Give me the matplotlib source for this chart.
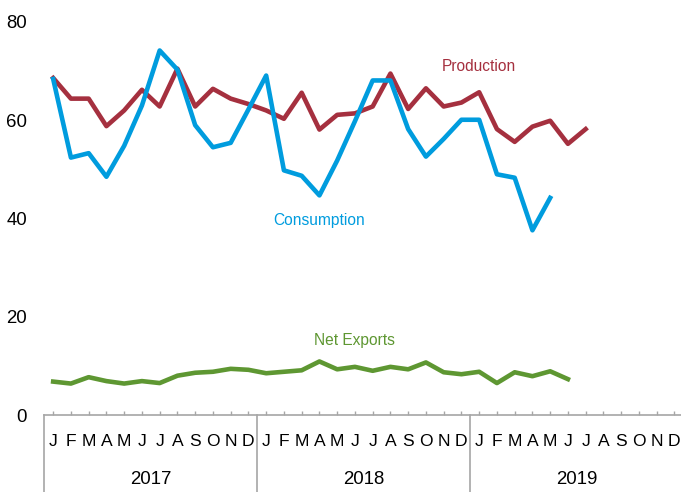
import matplotlib
matplotlib.use("Agg")
import matplotlib.pyplot as plt
import matplotlib.transforms as mtransforms

plt.rcParams['font.family'] = ['Liberation Sans', 'DejaVu Sans']

months = ["J", "F", "M", "A", "M", "J", "J", "A", "S", "O", "N", "D"]
years = ["2017", "2018", "2019"]

production = [68.6, 64.4, 64.4, 58.8, 62.0, 66.2, 62.8, 70.5, 62.8, 66.4, 64.4, 63.3,
              62.0, 60.3, 65.6, 58.1, 61.1, 61.4, 62.8, 69.5, 62.3, 66.5, 62.8, 63.6,
              65.7, 58.2, 55.6, 58.7, 59.9, 55.2, 58.2]
consumption = [68.4, 52.4, 53.3, 48.5, 54.8, 63.0, 74.2, 70.3, 59.0, 54.5, 55.4, 62.2,
               69.1, 49.8, 48.7, 44.7, 51.8, 59.8, 68.1, 68.1, 58.2, 52.6, 56.2, 60.1,
               60.1, 49.0, 48.3, 37.6, 44.2]
net_exports = [6.8, 6.4, 7.7, 6.9, 6.4, 6.9, 6.5, 8.0, 8.6, 8.8, 9.4, 9.2,
               8.5, 8.8, 9.1, 10.9, 9.3, 9.8, 9.0, 9.8, 9.3, 10.7, 8.7, 8.3,
               8.8, 6.5, 8.7, 7.9, 8.9, 7.3]

c_prod = "#A5303F"
c_cons = "#009CDE"
c_net = "#5E9732"
gray = "#A6A6A6"

W, H = 681, 492
fig = plt.figure(figsize=(W / 100, H / 100), dpi=100)
left = 44.3 / W
bottom = (H - 415) / H
ax = fig.add_axes([left, bottom, 639 / W, 393 / H])

n_months = len(months) * len(years)
ax.plot(range(len(production)), production, color=c_prod, lw=3.3, clip_on=False)
ax.plot(range(len(consumption)), consumption, color=c_cons, lw=3.3, clip_on=False)
ax.plot(range(len(net_exports)), net_exports, color=c_net, lw=3.3, clip_on=False)

ax.set_xlim(-0.5, n_months - 0.5)
ax.set_ylim(0, 80)
ax.set_yticks([0, 20, 40, 60, 80])
ax.tick_params(axis='y', length=0, pad=12.5, labelsize=13.4, labelcolor='black')
ax.set_xticks(range(n_months))
ax.set_xticklabels([])
ax.tick_params(axis='x', direction='in', length=3, width=1, color=gray)

for s in ['top', 'right', 'left']:
    ax.spines[s].set_visible(False)
ax.spines['bottom'].set_color(gray)
ax.spines['bottom'].set_linewidth(1.2)

trans = mtransforms.blended_transform_factory(ax.transData, ax.transAxes)
for i in range(n_months):
    ax.text(i, -26 / 393, months[i % 12], transform=trans, ha='center', va='center',
            fontsize=12.6, color='black')
for k, yr in enumerate(years):
    ax.text(k * 12 + 5.5, -65 / 393, yr, transform=trans, ha='center', va='center',
            fontsize=13.4, color='black')
for k in range(len(years) + 1):
    x = k * 12 - 0.5
    ax.plot([x, x], [0, -0.21], transform=trans, color=gray, lw=1.2, clip_on=False)

ax.text(24, 70.9, "Production", color=c_prod, fontsize=11.2, ha='center', va='center')
ax.text(15, 39.5, "Consumption", color=c_cons, fontsize=11.2, ha='center', va='center')
ax.text(17, 15.1, "Net Exports", color=c_net, fontsize=11.2, ha='center', va='center')

fig.savefig("out.png", dpi=100)
